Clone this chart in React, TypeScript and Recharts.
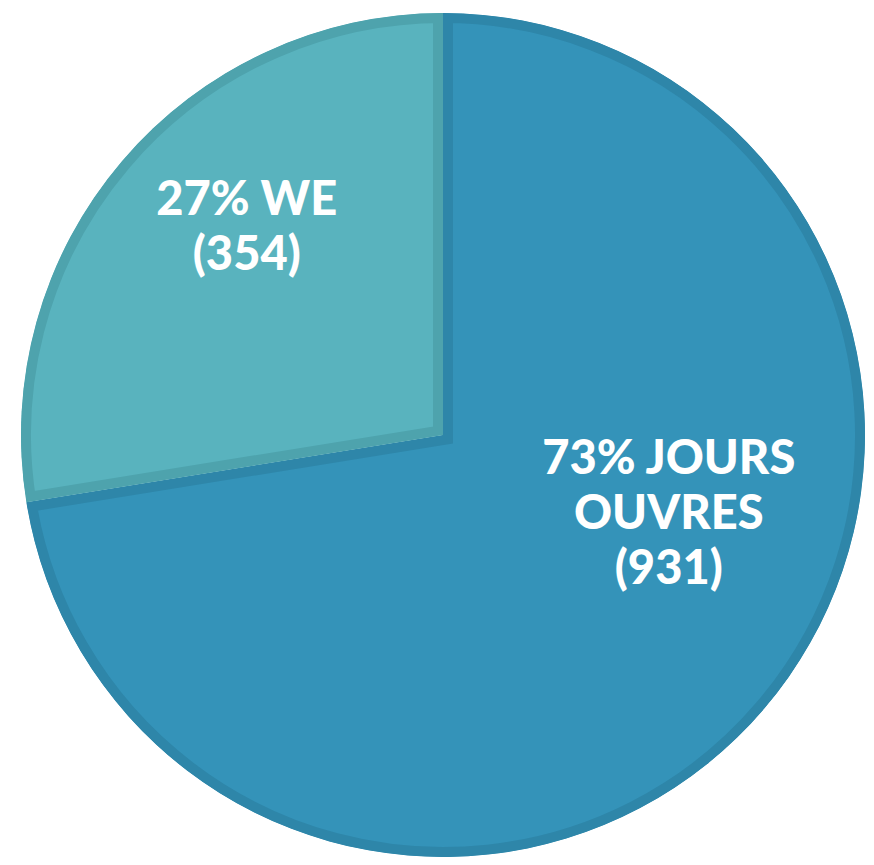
import { Pie, PieChart, Sector } from 'recharts'

const categories = ['JOURS OUVRES', 'WE']
const counts = [931, 354]
const percents = [73, 27]

const data = categories.map((name, i) => ({
  name,
  value: counts[i],
  pct: percents[i]
}))

const FILL: Record<string, string> = {
  'JOURS OUVRES': '#3493B9',
  WE: '#59B3BE'
}
const BORDER: Record<string, string> = {
  'JOURS OUVRES': '#2E86A9',
  WE: '#4EA3AD'
}
// label place, as a fraction of the radius from the centre
const LABEL_POS: Record<string, [number, number]> = {
  'JOURS OUVRES': [0.535, 0.18],
  WE: [-0.465, -0.5]
}

const InsetSector = (props: any) => {
  const name = props.payload?.name ?? props.name
  const id = 'clip-' + name.replace(/\s/g, '')
  const geo = {
    cx: props.cx,
    cy: props.cy,
    innerRadius: 0,
    outerRadius: props.outerRadius,
    startAngle: props.startAngle,
    endAngle: props.endAngle
  }
  return (
    <g>
      <defs>
        <clipPath id={id}>
          <Sector {...geo} />
        </clipPath>
      </defs>
      <Sector
        {...geo}
        fill={FILL[name]}
        stroke={BORDER[name]}
        strokeWidth={20}
        clipPath={`url(#${id})`}
      />
    </g>
  )
}

const SliceLabel = (props: any) => {
  const { cx, cy, outerRadius, name, value, pct } = props
  const [fx, fy] = LABEL_POS[name]
  const x = cx + fx * outerRadius
  const y = cy + fy * outerRadius
  const lines =
    name === 'WE'
      ? [`${pct}% WE`, `(${value})`]
      : [`${pct}% JOURS`, 'OUVRES', `(${value})`]
  const gap = 55
  const top = y - ((lines.length - 1) * gap) / 2
  return (
    <text
      x={x}
      y={top}
      fill='#FFFFFF'
      fontSize={47}
      fontWeight={900}
      fontFamily='Lato, sans-serif'
      textAnchor='middle'
      dominantBaseline='central'
    >
      {lines.map((l, i) => (
        <tspan key={i} x={x} y={top + i * gap}>
          {l}
        </tspan>
      ))}
    </text>
  )
}

export default function App() {
  return (
    <div style={{ margin: -8, width: 866, height: 865, overflow: 'hidden' }}>
      <PieChart
        width={866}
        height={865}
        margin={{ top: 0, right: 0, bottom: 0, left: 0 }}
      >
        <Pie
          data={data}
          dataKey='value'
          nameKey='name'
          cx={443}
          cy={435}
          outerRadius={422}
          startAngle={90}
          endAngle={-270}
          stroke='none'
          shape={InsetSector}
          label={SliceLabel}
          labelLine={false}
          isAnimationActive={false}
        />
      </PieChart>
    </div>
  )
}
